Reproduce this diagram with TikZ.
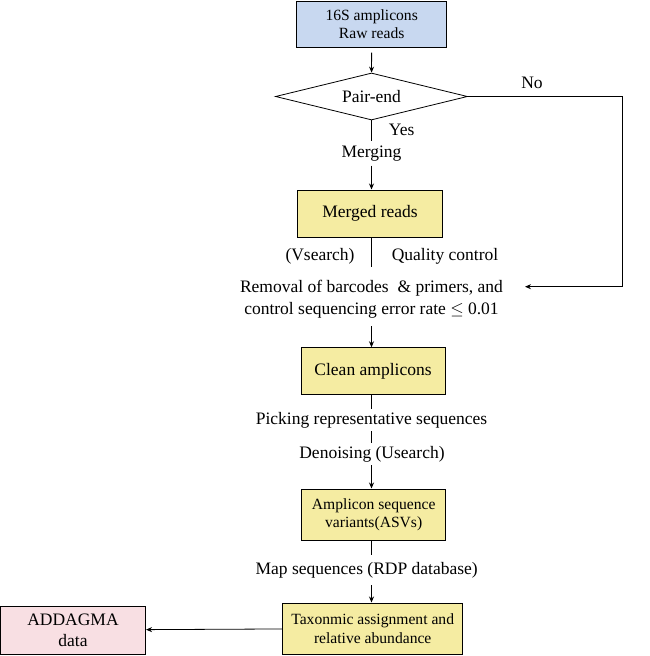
\documentclass[tikz,border=0pt]{standalone}
\usepackage{fontspec}
\setmainfont{Liberation Serif}
\usetikzlibrary{shapes.geometric,arrows.meta}
\definecolor{rawblue}{RGB}{200,216,240}
\definecolor{procyellow}{RGB}{245,236,162}
\definecolor{outpink}{RGB}{248,223,227}

\begin{document}
\begin{tikzpicture}[x=1pt, y=-1pt, line width=0.8pt, >={Stealth[length=6pt,width=5pt]},
        every node/.style={font=\fontsize{17.5}{20}\selectfont, align=center},
        smalltext/.style={font=\fontsize{15.6}{18.5}\selectfont},
        procbox/.style={draw, line width=1pt, fill=procyellow, inner sep=2pt},
        steptext/.style={inner sep=5pt}]
		\useasboundingbox (0,0) rectangle (649,656);
		\node[draw,smalltext,line width=1pt,fill=rawblue,minimum width=150pt,minimum height=46pt] (raw)at(371.7,24) {16S amplicons\\Raw reads};
		\node[draw,diamond,aspect=4,inner sep=0pt,minimum width=192pt,minimum height=47pt] (pe)at(371.5,96.5) {Pair-end};
		\node[steptext,inner ysep=4pt] (merg)at(371.5,153.5) {Merging};
		\node[procbox,minimum width=145pt,minimum height=47pt] (mr)at(370,213.5) {Merged reads};
		\coordinate (qc)at(371.5,266.7);
		\node[steptext,inner sep=2pt] (vs)at(320,256) {(Vsearch)};
		\node[steptext,inner sep=2pt] (qual)at(445,256) {Quality control};
		\node[steptext,inner ysep=8pt,font=\fontsize{17.5}{22}\selectfont] (rm)at(371.5,299) {Removal of barcodes \ \& primers, and\\control sequencing error rate $\leq$ 0.01};
		\node[procbox,minimum width=144pt,minimum height=47pt] (ca)at(373,371.3) {Clean amplicons};
		\node[steptext,inner ysep=3pt] (pick)at(371.5,420) {Picking representative sequences};
		\node[steptext,inner ysep=3pt] (den)at(372,454) {Denoising (Usearch)};
		\node[procbox,smalltext,minimum width=144pt,minimum height=51pt] (asv)at(373.7,514.5) {Amplicon sequence\\variants(ASVs)};
		\node[steptext,inner ysep=7pt] (map)at(366.7,570) {Map sequences (RDP database)};
		\node[procbox,smalltext,minimum width=180pt,minimum height=51pt] (tax)at(372.7,628.5) {Taxonmic assignment and\\relative abundance};
		\node[draw,line width=1pt,fill=outpink,minimum width=145pt,minimum height=48pt,font=\fontsize{17.5}{21}\selectfont] (add)at(73,630) {ADDAGMA\\data};
		\coordinate (noturn)at(622,96.5);
		\coordinate (noend)at(525,286.7);

		\draw[->,shorten <=5pt] (raw) -- (pe);
		\draw (pe) -- (pe |- merg.north);
		\draw[->] (pe |- merg.south) -- (pe |- mr.north);
		\draw (pe |- mr.south) -- (qc);
		\draw[->] (qc |- rm.south) -- (qc |- ca.north);
		\draw (qc |- ca.south) -- (qc |- pick.north);
		\draw (qc |- pick.south) -- (qc |- den.north);
		\draw[->] (qc |- den.south) -- (qc |- asv.north);
		\draw (qc |- asv.south) -- (qc |- map.north);
		\draw[->] (qc |- map.south) -- (qc |- tax.north);
		\draw[->] (tax) -- (add);
		\draw[->] (pe.east) -- (noturn) -- (noturn |- noend) -- (noend);

		\node (no)at(532,83) {No};
		\node (yes)at(401.7,130) {Yes};
\end{tikzpicture}
\end{document}
